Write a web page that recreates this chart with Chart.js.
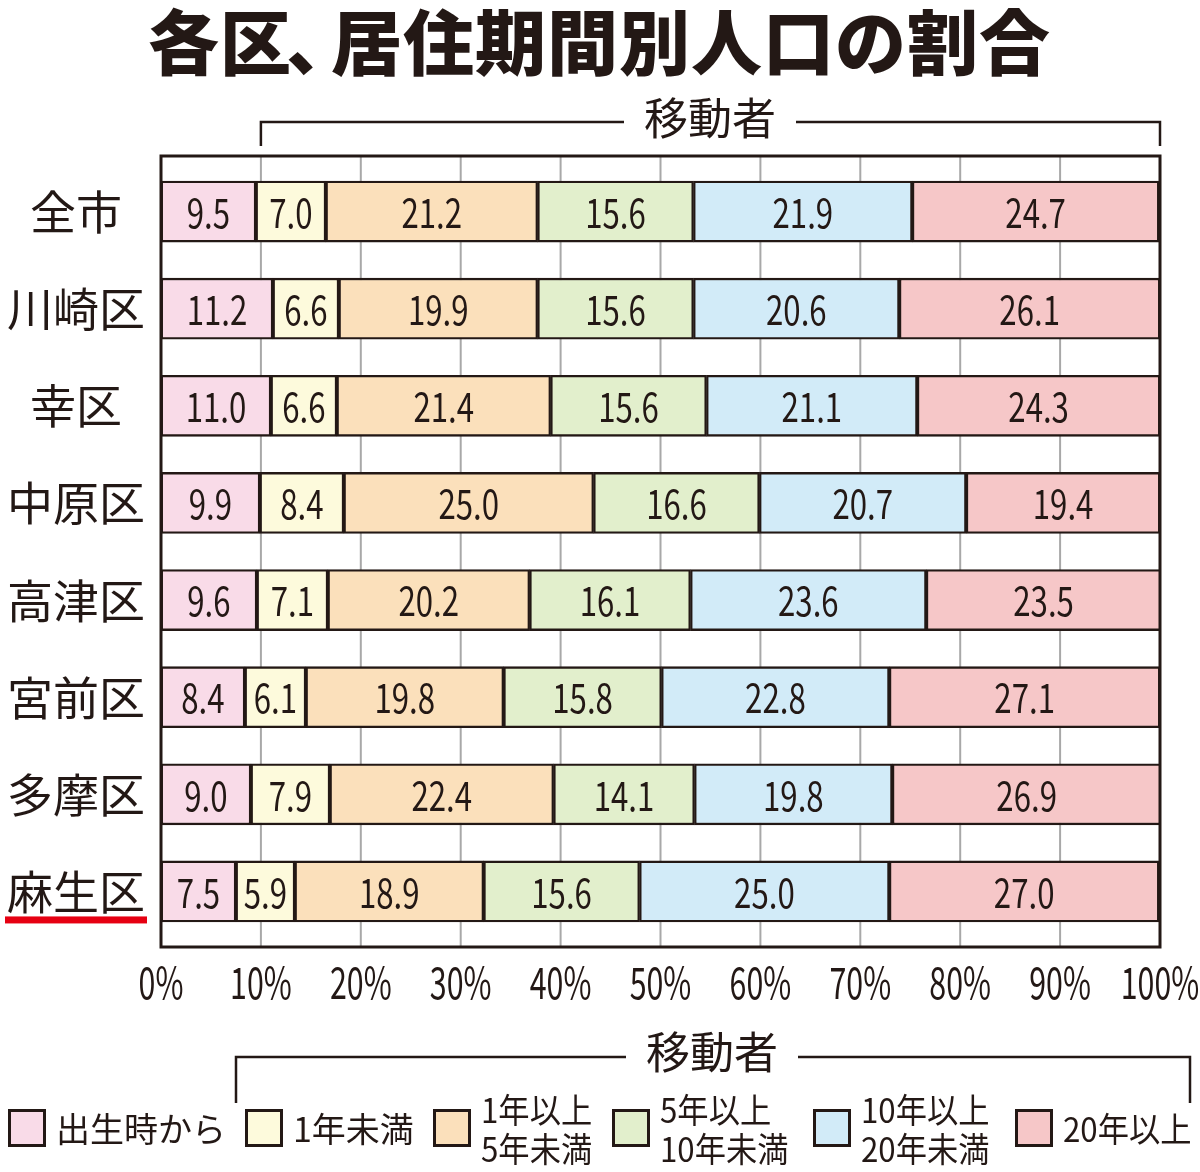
<!DOCTYPE html>
<html>
<head>
<meta charset="utf-8">
<script src="https://cdn.jsdelivr.net/npm/chart.js@4.4.1/dist/chart.umd.min.js"></script>
<style>
  html, body { margin: 0; background: #fff; }
</style>
</head>
<body>
<canvas id="chart" width="1200" height="1172"></canvas>
<script>
// data
const wards = ["全市", "川崎区", "幸区", "中原区", "高津区", "宮前区", "多摩区", "麻生区"];
const seriesNames = ["出生時から", "1年未満", "1年以上\n5年未満", "5年以上\n10年未満", "10年以上\n20年未満", "20年以上"];
const seriesColors = ["#f9dbe8", "#fdfadc", "#fbe0bb", "#e2efcc", "#d2ebf8", "#f6c7c8"];
const sinceBirth = [9.5, 11.2, 11.0, 9.9, 9.6, 8.4, 9.0, 7.5];
const under1y = [7.0, 6.6, 6.6, 8.4, 7.1, 6.1, 7.9, 5.9];
const y1to5 = [21.2, 19.9, 21.4, 25.0, 20.2, 19.8, 22.4, 18.9];
const y5to10 = [15.6, 15.6, 15.6, 16.6, 16.1, 15.8, 14.1, 15.6];
const y10to20 = [21.9, 20.6, 21.1, 20.7, 23.6, 22.8, 19.8, 25.0];
const over20y = [24.7, 26.1, 24.3, 19.4, 23.5, 27.1, 26.9, 27.0];
const title = "各区、居住期間別人口の割合";
const movers = "移動者";
const highlightWard = "麻生区";

const INK = "#231815";
const JP = '"Noto Sans CJK JP", "Noto Sans", sans-serif';
const legendX = [8, 245, 433, 612, 813, 1015];

function condensed(ctx, text, x, y, size, sx, weight = 400) {
  ctx.save();
  ctx.translate(x, y);
  ctx.scale(sx, 1);
  ctx.font = `${weight} ${size}px ${JP}`;
  ctx.fillText(text, 0, 0);
  ctx.restore();
}

function bracket(ctx, x0, x1, y, yEnd, cx, gap) {
  ctx.beginPath();
  ctx.moveTo(x0, yEnd); ctx.lineTo(x0, y); ctx.lineTo(cx - gap, y);
  ctx.moveTo(cx + gap, y); ctx.lineTo(x1, y); ctx.lineTo(x1, yEnd);
  ctx.stroke();
}

// title with a tight ideographic comma, like proportional Japanese typesetting
function drawTitle(ctx, text, cx, cy, size, track) {
  ctx.font = `900 ${size}px ${JP}`;
  const adv = (ch) => (ch === "、" ? size * 0.55 : ctx.measureText(ch).width + track);
  const chars = [...text];
  const total = chars.reduce((s, ch) => s + adv(ch), 0) - track;
  let x = cx - total / 2;
  ctx.textAlign = "left";
  chars.forEach((ch) => {
    ctx.fillText(ch, ch === "、" ? x - size * 0.08 : x, cy);
    x += adv(ch);
  });
  ctx.textAlign = "center";
}

const decor = {
  id: "decor",
  beforeDatasetsDraw(chart) {
    const { ctx, chartArea: a, scales: { x } } = chart;
    ctx.save();
    ctx.strokeStyle = "#a8a8a8";
    ctx.lineWidth = 2;
    x.ticks.forEach((t) => {
      if (t.value <= 0 || t.value >= 100) return;
      const px = x.getPixelForValue(t.value);
      ctx.beginPath();
      ctx.moveTo(px, a.top - 7);
      ctx.lineTo(px, a.bottom + 7);
      ctx.stroke();
    });
    ctx.restore();
  },
  afterDatasetsDraw(chart) {
    const { ctx, chartArea: a, scales: { x } } = chart;
    ctx.save();
    // values inside the segments
    ctx.fillStyle = INK;
    ctx.textAlign = "center";
    ctx.textBaseline = "middle";
    chart.data.datasets.forEach((ds, i) => {
      chart.getDatasetMeta(i).data.forEach((bar, j) => {
        const p = bar.getProps(["x", "y", "base"], true);
        condensed(ctx, ds.data[j].toFixed(1), (p.x + p.base) / 2, p.y + 1, 40, 0.78);
      });
    });
    // frame
    const left = x.getPixelForValue(0), right = x.getPixelForValue(100);
    ctx.strokeStyle = INK;
    ctx.lineWidth = 3;
    ctx.strokeRect(left, a.top - 7, right - left, a.bottom - a.top + 14);
    // percent tick labels
    x.ticks.forEach((t) => {
      condensed(ctx, t.value + "%", x.getPixelForValue(t.value), 982, 44, 0.69);
    });
    ctx.restore();
  },
  afterDraw(chart) {
    const { ctx, scales: { x, y } } = chart;
    ctx.save();
    ctx.fillStyle = INK;
    ctx.strokeStyle = INK;
    ctx.textAlign = "center";
    ctx.textBaseline = "middle";

    drawTitle(ctx, title, 599, 42, 71, 1);

    // top bracket
    ctx.lineWidth = 2.5;
    const x10 = x.getPixelForValue(10), x100 = x.getPixelForValue(100);
    bracket(ctx, x10, x100, 122, 146, 710, 86);
    ctx.font = `400 44px ${JP}`;
    ctx.fillText(movers, 710, 118);

    // bottom bracket
    bracket(ctx, 236, 1190, 1057, 1103, 712, 86);
    ctx.fillText(movers, 712, 1052);

    // underline of the highlighted ward
    const yl = y.getPixelForValue(wards.indexOf(highlightWard));
    ctx.fillStyle = "#e60012";
    ctx.fillRect(5, yl + 25, 142, 7);

    // legend
    chart.data.datasets.forEach((ds, i) => {
      const bx = legendX[i];
      ctx.fillStyle = ds.backgroundColor;
      ctx.fillRect(bx, 1109, 38, 38);
      ctx.lineWidth = 3;
      ctx.strokeRect(bx + 1.5, 1110.5, 35, 35);
      ctx.fillStyle = INK;
      ctx.textAlign = "left";
      const lines = ds.label.split("\n");
      const sx = i < 2 ? 1 : 0.92;
      if (lines.length === 1) {
        condensed(ctx, lines[0], bx + 48, 1129, 34, sx);
      } else {
        condensed(ctx, lines[0], bx + 48, 1110, 34, sx);
        condensed(ctx, lines[1], bx + 48, 1149, 34, sx);
      }
    });
    ctx.restore();
  }
};

const seriesValues = [sinceBirth, under1y, y1to5, y5to10, y10to20, over20y];

new Chart(document.getElementById("chart"), {
  type: "bar",
  data: {
    labels: wards,
    datasets: seriesValues.map((vals, i) => ({
      label: seriesNames[i],
      data: vals,
      backgroundColor: seriesColors[i],
      borderColor: INK,
      borderWidth: 2.3,
      borderSkipped: false,
      barThickness: 61
    }))
  },
  options: {
    indexAxis: "y",
    responsive: false,
    animation: false,
    layout: { padding: { top: 163, bottom: 232, left: 0, right: 40 } },
    plugins: { legend: { display: false }, tooltip: { enabled: false } },
    scales: {
      x: {
        stacked: true,
        min: 0,
        max: 100,
        display: false,
        ticks: { stepSize: 10 }
      },
      y: {
        stacked: true,
        grid: { display: false, drawTicks: false },
        border: { display: false },
        afterFit: (s) => { s.width = 161; },
        ticks: {
          crossAlign: "center",
          padding: 16,
          color: INK,
          font: { family: JP, size: 46, weight: 400 }
        }
      }
    }
  },
  plugins: [decor]
});
</script>
</body>
</html>
